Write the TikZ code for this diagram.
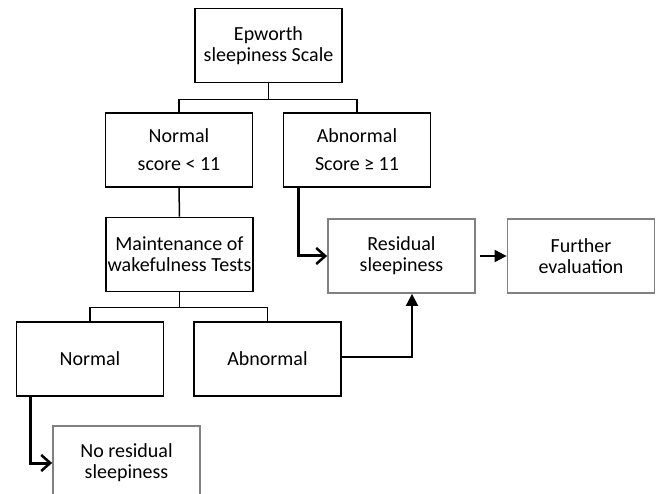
\documentclass[tikz,border=0pt]{standalone}
\usepackage{fontspec}
\setmainfont{Carlito}
\usetikzlibrary{arrows.meta}
\definecolor{boxgray}{HTML}{808080}
\tikzset{
  darkbox/.style={draw=black, line width=1.8pt, minimum width=147pt, minimum height=74pt,
    inner sep=0pt, align=center, font=\fontsize{20}{21}\selectfont},
  greybox/.style={darkbox, draw=boxgray},
  link/.style={line width=1.5pt},
  bigarrow/.style={line width=3pt, -{Straight Barb[length=9pt,width=16pt,line width=2.5pt]}},
  smallarrow/.style={line width=2pt, -{Triangle[length=12pt,width=12pt]}}
}
\begin{document}
\begin{tikzpicture}[x=1pt,y=-1pt]  %sleepiness flow
	\useasboundingbox (0,0) rectangle (659,494);
	\node[darkbox] (ess) at (268.5,45.5) {Epworth\\sleepiness Scale};
	\node[darkbox] (normA) at (179,150) {Normal\\[7pt]score < 11};
	\node[darkbox] (abnA) at (357,150) {Abnormal\\[7pt]Score ≥ 11};
	\node[darkbox] (mwt) at (179.5,254.5) {Maintenance of\\wakefulness Tests};
	\node[greybox] (resid) at (401.5,256) {Residual\\sleepiness};
	\node[greybox] (further) at (581,256) {Further\\evaluation};
	\node[darkbox] (normB) at (90,359) {Normal};
	\node[darkbox] (abnB) at (267.5,359) {Abnormal};
	\node[greybox] (nores) at (126.5,463) {No residual\\sleepiness};
	\draw[link] (ess.south) -- ++(0,16) coordinate (essbar);
	\draw[link] (normA.north) |- (essbar) -| (abnA.north);
	\draw[link] (normA.south) -- (mwt.north);
	\draw[link] (mwt.south) -- ++(0,15) coordinate (mwtbar);
	\draw[link] (normB.north) |- (mwtbar) -| (abnB.north);
	\draw[bigarrow] ([xshift=16pt]abnA.south west) |- (resid.west);
	\draw[smallarrow, shorten <=4pt] (resid.east) -- (further.west);
	\draw[smallarrow] ([yshift=2pt]abnB.east) -| ([xshift=10.5pt]resid.south);
	\draw[bigarrow] ([xshift=15pt]normB.south west) |- (nores.west);
\end{tikzpicture}
\end{document}
